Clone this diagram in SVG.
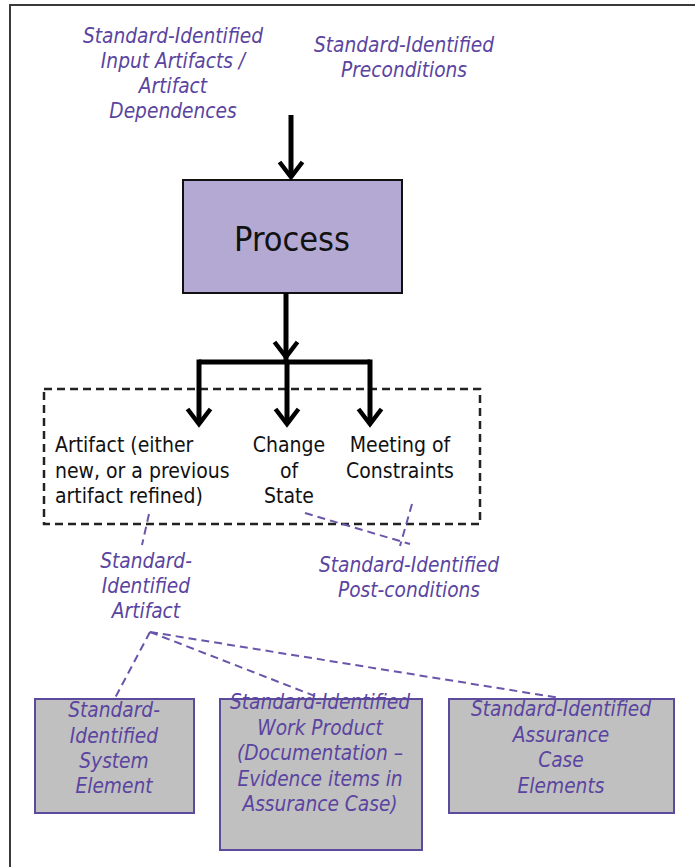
<svg xmlns="http://www.w3.org/2000/svg" width="695" height="867" viewBox="0 0 695 867">
<defs>
<style>
.lbl{font-family:"DejaVu Sans Condensed","DejaVu Sans",sans-serif;font-stretch:condensed;font-style:italic;font-size:20.7px;fill:#5a44a0;text-anchor:middle}
.blk{font-family:"DejaVu Sans Condensed","DejaVu Sans",sans-serif;font-stretch:condensed;font-size:21px;fill:#111}
.mid{text-anchor:middle}
.arr{fill:none;stroke:#000;stroke-width:5}
.pd{fill:none;stroke:#6a55aa;stroke-width:2;stroke-dasharray:8 5}
.gbox{fill:#c0c0c0;stroke:#5c4a9c;stroke-width:2}
</style>
<marker id="chev" markerUnits="userSpaceOnUse" viewBox="-18 -14 22 28" refX="0" refY="0" markerWidth="22" markerHeight="28" orient="auto" overflow="visible">
<path d="M-15,-11.5 L0,0 L-15,11.5" fill="none" stroke="#000" stroke-width="4.5" stroke-linejoin="miter"/>
</marker>
</defs>
<rect width="695" height="867" fill="#fff"/>
<path d="M10,867 V5 H695" fill="none" stroke="#3a3a3a" stroke-width="2"/>

<g id="input-artifacts">
<text class="lbl" x="173" y="43">Standard-Identified</text>
<text class="lbl" x="173" y="68">Input Artifacts /</text>
<text class="lbl" x="173" y="93">Artifact</text>
<text class="lbl" x="173" y="118">Dependences</text>
</g>
<g id="preconditions">
<text class="lbl" x="404" y="52">Standard-Identified</text>
<text class="lbl" x="404" y="77">Preconditions</text>
</g>

<g id="process">
<rect x="183" y="180" width="219" height="113" fill="#b4a9d2" stroke="#111" stroke-width="2"/>
<text class="blk mid" x="292" y="251" style="font-size:34px">Process</text>
</g>

<g id="outputs">
<rect x="44" y="389" width="436" height="135" fill="none" stroke="#222" stroke-width="2.5" stroke-dasharray="8 5"/>
<g id="artifact-out">
<text class="blk" x="55" y="452">Artifact (either</text>
<text class="blk" x="55" y="478">new, or a previous</text>
<text class="blk" x="55" y="503">artifact refined)</text>
</g>
<g id="change-of-state">
<text class="blk mid" x="289" y="452">Change</text>
<text class="blk mid" x="289" y="478">of</text>
<text class="blk mid" x="289" y="503">State</text>
</g>
<g id="meeting-constraints">
<text class="blk mid" x="400" y="452">Meeting of</text>
<text class="blk mid" x="400" y="478">Constraints</text>
</g>
</g>

<g id="std-artifact">
<text class="lbl" x="146" y="568">Standard-</text>
<text class="lbl" x="146" y="593">Identified</text>
<text class="lbl" x="146" y="618">Artifact</text>
</g>
<g id="postconditions">
<text class="lbl" x="409" y="572">Standard-Identified</text>
<text class="lbl" x="409" y="597">Post-conditions</text>
</g>

<g id="system-element">
<rect class="gbox" x="35" y="699" width="159" height="114"/>
<text class="lbl" x="114" y="717">Standard-</text>
<text class="lbl" x="114" y="743">Identified</text>
<text class="lbl" x="114" y="768">System</text>
<text class="lbl" x="114" y="793">Element</text>
</g>
<g id="work-product">
<rect class="gbox" x="220" y="699" width="202" height="151"/>
<text class="lbl" x="320" y="709">Standard-Identified</text>
<text class="lbl" x="320" y="735">Work Product</text>
<text class="lbl" x="320" y="760">(Documentation –</text>
<text class="lbl" x="320" y="786">Evidence items in</text>
<text class="lbl" x="320" y="811">Assurance Case)</text>
</g>
<g id="assurance-case">
<rect class="gbox" x="449" y="699" width="225" height="114"/>
<text class="lbl" x="561" y="716">Standard-Identified</text>
<text class="lbl" x="561" y="742">Assurance</text>
<text class="lbl" x="561" y="767">Case</text>
<text class="lbl" x="561" y="793">Elements</text>
</g>

<g id="connectors">
<line class="arr" x1="291" y1="115" x2="291" y2="177" marker-end="url(#chev)"/>
<line class="arr" x1="286" y1="293" x2="286" y2="357" marker-end="url(#chev)"/>
<path class="arr" d="M199,362 H370"/>
<line class="arr" x1="286" y1="357" x2="286" y2="362"/>
<line class="arr" x1="199" y1="359.5" x2="199" y2="424" marker-end="url(#chev)"/>
<line class="arr" x1="287" y1="362" x2="287" y2="424" marker-end="url(#chev)"/>
<line class="arr" x1="370" y1="359.5" x2="370" y2="424" marker-end="url(#chev)"/>
<line class="pd" x1="149" y1="514" x2="142" y2="545"/>
<line class="pd" x1="305" y1="513" x2="410" y2="544"/>
<line class="pd" x1="412" y1="504" x2="400" y2="546"/>
<line class="pd" x1="150" y1="632" x2="115" y2="698"/>
<line class="pd" x1="150" y1="632" x2="320" y2="698"/>
<line class="pd" x1="150" y1="632" x2="560" y2="698"/>
</g>
</svg>
